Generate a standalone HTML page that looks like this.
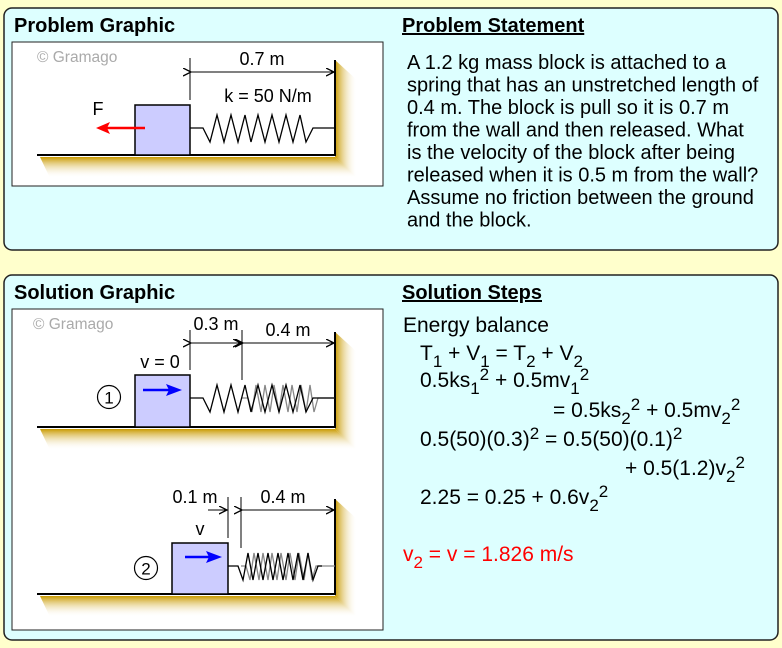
<!DOCTYPE html>
<html><head><meta charset="utf-8"><style>
body{margin:0;background:#ffffcc;}
svg{display:block;font-family:"Liberation Sans",Arial,sans-serif;}
</style></head><body>
<svg width="782" height="648" viewBox="0 0 782 648" xmlns="http://www.w3.org/2000/svg">
<defs>
<linearGradient id="gv" x1="0" y1="0" x2="0" y2="1"><stop offset="0" stop-color="#c99a00"/><stop offset="1" stop-color="#fff" stop-opacity="0"/></linearGradient>
<linearGradient id="gh" x1="0" y1="0" x2="1" y2="0"><stop offset="0" stop-color="#c99a00"/><stop offset="1" stop-color="#fff" stop-opacity="0"/></linearGradient>
<marker id="ah" markerWidth="10" markerHeight="10" refX="8" refY="4" orient="auto" markerUnits="userSpaceOnUse"><path d="M0,0 L8,4 L0,8" fill="none" stroke="#000" stroke-width="1.3"/></marker>
<g id="ground">
<polygon points="40,157 335,157 357,178 50,178" fill="url(#gv)"/>
<polygon points="335,60 357,80 357,178 335,157" fill="url(#gh)"/>
<polyline points="37,155 335,155 335,60" fill="none" stroke="#000" stroke-width="2"/>
</g>
</defs>
<rect x="4" y="8" width="774" height="242" rx="8" fill="#ddffff" stroke="#222" stroke-width="1.5"/>
<rect x="4" y="275" width="774" height="365" rx="8" fill="#ddffff" stroke="#222" stroke-width="1.5"/>
<text x="14" y="32" font-size="20" font-weight="bold">Problem Graphic</text>
<text x="402" y="32" font-size="20" font-weight="bold" text-decoration="underline">Problem Statement</text>
<text x="14" y="299" font-size="20" font-weight="bold">Solution Graphic</text>
<text x="402" y="299" font-size="20" font-weight="bold" text-decoration="underline">Solution Steps</text>
<rect x="12" y="42" width="371" height="144" fill="#fff" stroke="#222" stroke-width="1"/>
<rect x="12" y="309" width="371" height="321" fill="#fff" stroke="#222" stroke-width="1"/>

<text x="37" y="62" font-size="15.5" fill="#aaa">© Gramago</text>
<use href="#ground"/>
<rect x="135" y="105" width="55" height="50" fill="#ccccff" stroke="#000" stroke-width="1.5"/>
<polyline points="190,128 203,128 210,142 217,115 224,142 231,115 238,142 245,115 251,142 258,115 265,142 272,115 279,142 286,115 293,142 300,115 306,142 313,128 335,128" fill="none" stroke="#000" stroke-width="1.3"/>
<line x1="190" y1="58" x2="190" y2="100" stroke="#000"/>
<line x1="191" y1="72" x2="334" y2="72" stroke="#000" marker-end="url(#ah)" marker-start="url(#ah)"/>
<text x="262" y="65" font-size="18" text-anchor="middle">0.7 m</text>
<text x="268" y="102" font-size="18" text-anchor="middle">k = 50 N/m</text>
<text x="98" y="115" font-size="18" text-anchor="middle">F</text>
<line x1="145" y1="128" x2="105" y2="128" stroke="red" stroke-width="2.5"/>
<polygon points="96,128 110,122 107,128 110,134" fill="red"/>

<text x="33" y="329" font-size="15.5" fill="#aaa">© Gramago</text>
<use href="#ground" y="272"/>
<rect x="135" y="375" width="55" height="52" fill="#ccccff" stroke="#000" stroke-width="1.5"/>
<line x1="143" y1="390" x2="170" y2="390" stroke="blue" stroke-width="2.5"/>
<polygon points="182,390 166,384 169,390 166,396" fill="blue"/>
<polyline points="242,398 248,398 252,412 256,385 261,412 265,385 270,412 274,385 279,412 283,385 288,412 292,385 297,412 301,385 306,412 310,385 314,412 318,398 335,398" fill="none" stroke="#888" stroke-width="1.3"/>
<polyline points="190,398 203,398 210,412 217,385 224,412 231,385 238,412 245,385 251,412 258,385 265,412 272,385 279,412 286,385 293,412 300,385 306,412 313,398 335,398" fill="none" stroke="#000" stroke-width="1.3"/>
<line x1="190" y1="330" x2="190" y2="370" stroke="#000"/>
<line x1="242" y1="330" x2="242" y2="380" stroke="#000"/>
<line x1="191" y1="343" x2="241" y2="343" stroke="#000" marker-end="url(#ah)" marker-start="url(#ah)"/>
<line x1="243" y1="343" x2="334" y2="343" stroke="#000" marker-end="url(#ah)" marker-start="url(#ah)"/>
<text x="216" y="330" font-size="18" text-anchor="middle">0.3 m</text>
<text x="288" y="336" font-size="18" text-anchor="middle">0.4 m</text>
<text x="160" y="368" font-size="18" text-anchor="middle">v = 0</text>
<circle cx="109" cy="397" r="11.5" fill="none" stroke="#000" stroke-width="1.2"/>
<text x="109" y="403.5" font-size="17" text-anchor="middle">1</text>

<use href="#ground" y="439"/>
<rect x="172" y="543" width="56" height="51" fill="#ccccff" stroke="#000" stroke-width="1.5"/>
<line x1="185" y1="557" x2="210" y2="557" stroke="blue" stroke-width="2.5"/>
<polygon points="222,557 206,551 209,557 206,563" fill="blue"/>
<polyline points="241,566 246,566 250,580 254,553 259,580 263,553 268,580 272,553 277,580 281,553 286,580 290,553 295,580 299,553 304,580 308,553 312,580 316,566 335,566" fill="none" stroke="#888" stroke-width="1.3"/>
<polyline points="228,566 238,566 243,580 248,553 253,580 258,553 263,580 268,553 273,580 278,553 283,580 288,553 293,580 298,553 303,580 308,553 313,580 318,566 322,566" fill="none" stroke="#000" stroke-width="1.3"/>
<line x1="228" y1="497" x2="228" y2="538" stroke="#000"/>
<line x1="241" y1="497" x2="241" y2="548" stroke="#000"/>
<line x1="208" y1="510" x2="227" y2="510" stroke="#000" marker-end="url(#ah)"/>
<line x1="242" y1="510" x2="334" y2="510" stroke="#000" marker-end="url(#ah)" marker-start="url(#ah)"/>
<text x="195" y="503" font-size="18" text-anchor="middle">0.1 m</text>
<text x="283" y="503" font-size="18" text-anchor="middle">0.4 m</text>
<text x="200" y="535" font-size="18" text-anchor="middle">v</text>
<circle cx="146" cy="568" r="11.5" fill="none" stroke="#000" stroke-width="1.2"/>
<text x="146" y="574.5" font-size="17" text-anchor="middle">2</text>

<g font-size="20">
<text x="407" y="69">A 1.2 kg mass block is attached to a</text>
<text x="407" y="91.5">spring that has an unstretched length of</text>
<text x="407" y="114">0.4 m. The block is pull so it is 0.7 m</text>
<text x="407" y="136.5">from the wall and then released. What</text>
<text x="407" y="159">is the velocity of the block after being</text>
<text x="407" y="181.5">released when it is 0.5 m from the wall?</text>
<text x="407" y="204">Assume no friction between the ground</text>
<text x="407" y="226.5">and the block.</text>
</g>
<g font-size="21">
<text x="403" y="332">Energy balance</text>
<text x="420" y="360">T<tspan dy="7" font-size="17">1</tspan><tspan dy="-7"> + V</tspan><tspan dy="7" font-size="17">1</tspan><tspan dy="-7"> = T</tspan><tspan dy="7" font-size="17">2</tspan><tspan dy="-7"> + V</tspan><tspan dy="7" font-size="17">2</tspan></text>
<text x="420" y="387">0.5ks<tspan dy="7" font-size="17">1</tspan><tspan dy="-14" font-size="17">2</tspan><tspan dy="7"> + 0.5mv</tspan><tspan dy="7" font-size="17">1</tspan><tspan dy="-14" font-size="17">2</tspan></text>
<text x="553" y="417">= 0.5ks<tspan dy="7" font-size="17">2</tspan><tspan dy="-14" font-size="17">2</tspan><tspan dy="7"> + 0.5mv</tspan><tspan dy="7" font-size="17">2</tspan><tspan dy="-14" font-size="17">2</tspan></text>
<text x="420" y="446">0.5(50)(0.3)<tspan dy="-7" font-size="17">2</tspan><tspan dy="7"> = 0.5(50)(0.1)</tspan><tspan dy="-7" font-size="17">2</tspan></text>
<text x="625" y="475">+ 0.5(1.2)v<tspan dy="7" font-size="17">2</tspan><tspan dy="-14" font-size="17">2</tspan></text>
<text x="420" y="504">2.25 = 0.25 + 0.6v<tspan dy="7" font-size="17">2</tspan><tspan dy="-14" font-size="17">2</tspan></text>
<text x="403" y="561" fill="red">v<tspan dy="7" font-size="17">2</tspan><tspan dy="-7"> = v = 1.826 m/s</tspan></text>
</g>
</svg>
</body></html>
